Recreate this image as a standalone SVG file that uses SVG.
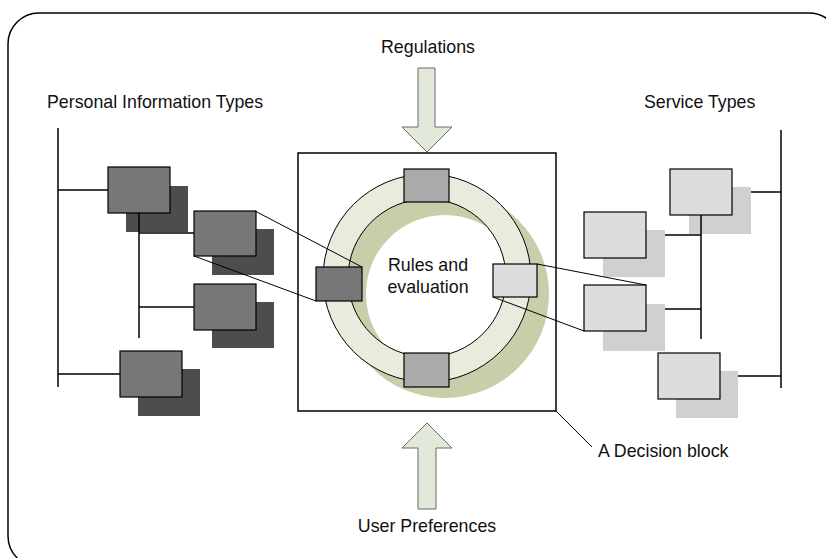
<svg xmlns="http://www.w3.org/2000/svg" width="826" height="558" viewBox="0 0 826 558">
  <style>
    text { font-family: "Liberation Sans", Arial, sans-serif; font-size: 17.8px; fill: #111; }
    .line { stroke: #000; stroke-width: 1.5; fill: none; }
    .thin { stroke: #000; stroke-width: 1; fill: none; }
    .pbox { fill: #777777; stroke: #000; stroke-width: 1.2; }
    .pshadow { fill: #4d4d4d; }
    .sbox { fill: #dddddd; stroke: #000; stroke-width: 1.2; }
    .sshadow { fill: #d0d0d0; }
    .arrow { fill: #e2e9da; stroke: #6a6a6a; stroke-width: 1; }
  </style>

  <!-- frame -->
  <rect x="8" y="13" width="832" height="554" rx="31" fill="#fff" stroke="#000" stroke-width="1.5"/>

  <!-- headings -->
  <text x="47" y="108">Personal Information Types</text>
  <text x="644" y="108">Service Types</text>
  <text x="428" y="53" text-anchor="middle">Regulations</text>
  <text x="427" y="532" text-anchor="middle">User Preferences</text>
  <text x="598" y="457">A Decision block</text>

  <!-- personal information type nodes -->
  <g id="pit-1">
    <rect class="pshadow" x="126" y="186" width="62" height="46"/>
    <rect class="pbox" x="108" y="167" width="62" height="46"/>
  </g>
  <g id="pit-2">
    <rect class="pshadow" x="212" y="229" width="62" height="46"/>
    <rect class="pbox" x="194" y="211" width="62" height="45"/>
  </g>
  <g id="pit-3">
    <rect class="pshadow" x="212" y="302" width="62" height="46"/>
    <rect class="pbox" x="194" y="284" width="62" height="46"/>
  </g>
  <g id="pit-4">
    <rect class="pshadow" x="138" y="369" width="62" height="47"/>
    <rect class="pbox" x="120" y="351" width="62" height="46"/>
  </g>

  <!-- service type nodes -->
  <g id="st-1">
    <rect class="sshadow" x="689" y="187" width="62" height="47"/>
    <rect class="sbox" x="670" y="169" width="62" height="46"/>
  </g>
  <g id="st-2">
    <rect class="sshadow" x="603" y="230" width="62" height="47"/>
    <rect class="sbox" x="584" y="212" width="62" height="46"/>
  </g>
  <g id="st-3">
    <rect class="sshadow" x="603" y="304" width="62" height="47"/>
    <rect class="sbox" x="584" y="285" width="62" height="46"/>
  </g>
  <g id="st-4">
    <rect class="sshadow" x="676" y="371" width="62" height="47"/>
    <rect class="sbox" x="658" y="353" width="62" height="46"/>
  </g>

  <!-- decision block -->
  <g id="decision-block">
    <rect x="298" y="153" width="258" height="258" fill="#fff" stroke="#000" stroke-width="1.5"/>
    <!-- ring shadow -->
    <path fill="#c6cfa9" fill-rule="evenodd"
      d="M341 294 a104 104 0 1 0 208 0 a104 104 0 1 0 -208 0 Z M366 294 a79 79 0 1 0 158 0 a79 79 0 1 0 -158 0 Z"/>
    <!-- ring -->
    <path fill="#e7ecdc" fill-rule="evenodd"
      d="M323 278 a104 104 0 1 0 208 0 a104 104 0 1 0 -208 0 Z M348 278 a79 79 0 1 0 158 0 a79 79 0 1 0 -158 0 Z"/>
    <circle cx="427" cy="278" r="104" class="thin"/>
    <circle cx="427" cy="278" r="79" class="thin"/>
    <text x="428" y="271" text-anchor="middle">Rules and</text>
    <text x="428" y="293" text-anchor="middle">evaluation</text>
  </g>

  <!-- connectors -->
  <g id="connectors">
    <!-- personal information tree -->
    <line class="line" x1="58" y1="128" x2="58" y2="387"/>
    <line class="line" x1="58" y1="190" x2="108" y2="190"/>
    <line class="line" x1="58" y1="374" x2="120" y2="374"/>
    <line class="line" x1="139" y1="213" x2="139" y2="338"/>
    <line class="line" x1="139" y1="233" x2="194" y2="233"/>
    <line class="line" x1="139" y1="307" x2="194" y2="307"/>
    <!-- service tree -->
    <line class="line" x1="781" y1="130" x2="781" y2="388"/>
    <line class="line" x1="751" y1="192" x2="781" y2="192"/>
    <line class="line" x1="738" y1="376" x2="781" y2="376"/>
    <line class="line" x1="701" y1="215" x2="701" y2="339"/>
    <line class="line" x1="665" y1="235" x2="701" y2="235"/>
    <line class="line" x1="665" y1="309" x2="701" y2="309"/>
    <!-- links into the decision ring -->
    <line class="thin" x1="255" y1="211" x2="362" y2="267"/>
    <line class="thin" x1="194" y1="256" x2="316" y2="301"/>
    <line class="thin" x1="537" y1="264" x2="646" y2="285"/>
    <line class="thin" x1="493" y1="297" x2="584" y2="331"/>
    <!-- callout -->
    <line class="thin" x1="556" y1="411" x2="592" y2="447"/>
  </g>

  <!-- ring ports -->
  <g id="ring-top"><rect x="404" y="169" width="45" height="33" fill="#aaaaaa" stroke="#000" stroke-width="1.2"/></g>
  <g id="ring-bottom"><rect x="404" y="353" width="45" height="34" fill="#aaaaaa" stroke="#000" stroke-width="1.2"/></g>
  <g id="ring-left"><rect x="316" y="267" width="46" height="34" fill="#777777" stroke="#000" stroke-width="1.2"/></g>
  <g id="ring-right"><rect x="493" y="264" width="44" height="33" fill="#dddddd" stroke="#000" stroke-width="1.2"/></g>

  <!-- input arrows -->
  <g id="arrow-regulations">
    <polygon class="arrow" points="418,68 435,68 435,127 452,127 427,152 402,127 418,127"/>
  </g>
  <g id="arrow-preferences">
    <polygon class="arrow" points="427,423 452,448 436,448 436,509 418,509 418,448 402,448"/>
  </g>
</svg>
